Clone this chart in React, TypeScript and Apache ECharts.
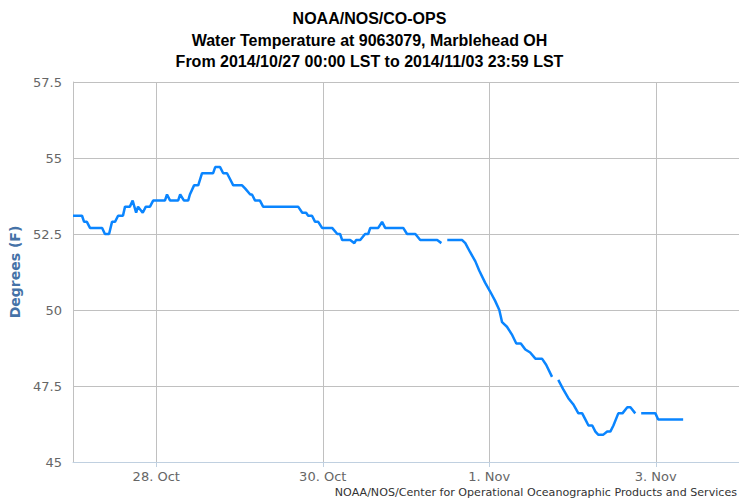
import React, { useEffect, useRef } from "react";
import * as echarts from "echarts";

// Hours since 2014/10/27 00:00 LST; null marks a data gap
const hours: (number | null)[] = [
  0, 2.6, 3.2, 4.0, 4.9, 8.4, 9.2, 10.4, 11.25, 12.1, 13.0, 14.4, 15.0, 16.4, 17.2, 18.2, 18.75,
  20.1, 21.0, 22.2, 23.1, 26.5, 27.1, 28.0, 30.3, 30.9, 32.0, 33.2, 33.7, 34.9, 36.1, 37.2, 40.4,
  41.0, 42.4, 43.3, 44.4, 45.3, 46.2, 48.75, 49.6, 51.1, 51.6, 52.5, 53.9, 54.8, 64.9, 66.1, 67.2,
  67.8, 68.9, 69.8, 70.7, 71.8, 74.7, 76.2, 77.0, 77.6, 79.9, 81.1, 81.6, 82.8, 84.2, 85.1, 85.7,
  88.0, 89.1, 90.0, 95.2, 96.3, 98.7, 100.1, 105.0, 106.2,
  null,
  107.9, 112.2, 113.1, 114.5, 116.0, 117.1, 118.8, 120.3, 121.7, 122.9, 123.7, 125.1, 126.5, 127.8,
  129.1, 130.4, 131.8, 133.3, 135.2, 136.4, 138.1,
  null,
  139.9, 141.3, 142.8, 144.2, 145.7, 146.8, 147.7, 148.6, 149.7, 150.6, 151.4, 152.9, 154.0, 154.9,
  155.8, 157.2, 158.4, 159.8, 160.7, 162.1,
  null,
  163.8, 167.9, 168.7, 175.9,
];

const temps: (number | null)[] = [
  53.1, 53.1, 52.9, 52.9, 52.7, 52.7, 52.5, 52.5, 52.9, 52.9, 53.1, 53.1, 53.4, 53.4, 53.6, 53.2, 53.4,
  53.2, 53.4, 53.4, 53.6, 53.6, 53.8, 53.6, 53.6, 53.8, 53.6, 53.6, 53.8, 54.1, 54.1, 54.5, 54.5,
  54.7, 54.7, 54.5, 54.5, 54.3, 54.1, 54.1, 54.0, 53.8, 53.8, 53.6, 53.6, 53.4, 53.4, 53.2, 53.2,
  53.1, 53.1, 52.9, 52.9, 52.7, 52.7, 52.5, 52.5, 52.3, 52.3, 52.2, 52.3, 52.3, 52.5, 52.5, 52.7,
  52.7, 52.9, 52.7, 52.7, 52.5, 52.5, 52.3, 52.3, 52.2,
  null,
  52.3, 52.3, 52.2, 51.9, 51.6, 51.3, 50.9, 50.6, 50.3, 50.0, 49.6, 49.45, 49.2, 48.9,
  48.9, 48.7, 48.6, 48.4, 48.4, 48.2, 47.8,
  null,
  47.7, 47.4, 47.1, 46.9, 46.6, 46.6, 46.4, 46.2, 46.2, 46.0, 45.9, 45.9, 46.0, 46.0,
  46.2, 46.6, 46.6, 46.8, 46.8, 46.6,
  null,
  46.6, 46.6, 46.4, 46.4,
];

const tickHours = [24, 72, 120, 168];
const tickLabels = ["28. Oct", "30. Oct", "1. Nov", "3. Nov"];

const titleLines = [
  "NOAA/NOS/CO-OPS",
  "Water Temperature at 9063079, Marblehead OH",
  "From 2014/10/27 00:00 LST to 2014/11/03 23:59 LST",
];
const creditText = "NOAA/NOS/Center for Operational Oceanographic Products and Services";

export default function App() {
  const ref = useRef<HTMLDivElement>(null);
  useEffect(() => {
    if (!ref.current) return;
    const chart = echarts.init(ref.current, undefined, { renderer: "svg" });
    const data = hours.map((h, i) =>
      h === null || temps[i] === null ? ["-", "-"] : [h, temps[i]]
    );
    chart.setOption({
      animation: false,
      backgroundColor: "#ffffff",
      title: {
        text: titleLines.join("\n"),
        left: "center",
        top: 3,
        textStyle: {
          fontFamily: "Liberation Sans, Arial, sans-serif",
          fontSize: 16,
          fontWeight: "bold",
          color: "#000000",
          lineHeight: 21.5,
        },
      },
      grid: { left: 73, right: 0, top: 82, bottom: 37, containLabel: false },
      xAxis: {
        type: "value",
        min: 0,
        max: 192,
        axisLine: { show: true, lineStyle: { color: "#C0D0E0", width: 1 } },
        axisTick: {
          show: true,
          customValues: tickHours,
          length: 5,
          lineStyle: { color: "#C0D0E0" },
        },
        axisLabel: {
          customValues: tickHours,
          formatter: (v: number) => {
            const i = tickHours.indexOf(v);
            return i >= 0 ? tickLabels[i] : "";
          },
          color: "#666666",
          fontFamily: "DejaVu Sans, sans-serif",
          fontSize: 13,
          margin: 8,
        },
        splitLine: { show: true, lineStyle: { color: "#C0C0C0", width: 1 } },
      },
      yAxis: {
        type: "value",
        min: 45,
        max: 57.5,
        interval: 2.5,
        name: "Degrees (F)",
        nameLocation: "middle",
        nameGap: 50,
        nameTextStyle: {
          color: "#4572A7",
          fontFamily: "DejaVu Sans, sans-serif",
          fontSize: 14,
          fontWeight: "bold",
        },
        axisLine: { show: true, lineStyle: { color: "#C0C0C0", width: 1 } },
        axisTick: { show: false },
        axisLabel: {
          color: "#666666",
          fontFamily: "DejaVu Sans, sans-serif",
          fontSize: 13,
          margin: 11,
        },
        splitLine: { show: true, lineStyle: { color: "#C0C0C0", width: 1 } },
      },
      series: [
        {
          type: "line",
          data,
          showSymbol: false,
          symbol: "none",
          connectNulls: false,
          lineStyle: { color: "#0A85FF", width: 2.5 },
          itemStyle: { color: "#0A85FF" },
        },
      ],
      graphic: [
        {
          type: "text",
          right: 2,
          bottom: 1,
          style: {
            text: creditText,
            fill: "#333333",
            font: "11.1px DejaVu Sans, sans-serif",
          },
        },
      ],
    });
    return () => chart.dispose();
  }, []);
  return <div ref={ref} style={{ width: 739, height: 499, position: "absolute", left: 0, top: 0 }} />;
}
